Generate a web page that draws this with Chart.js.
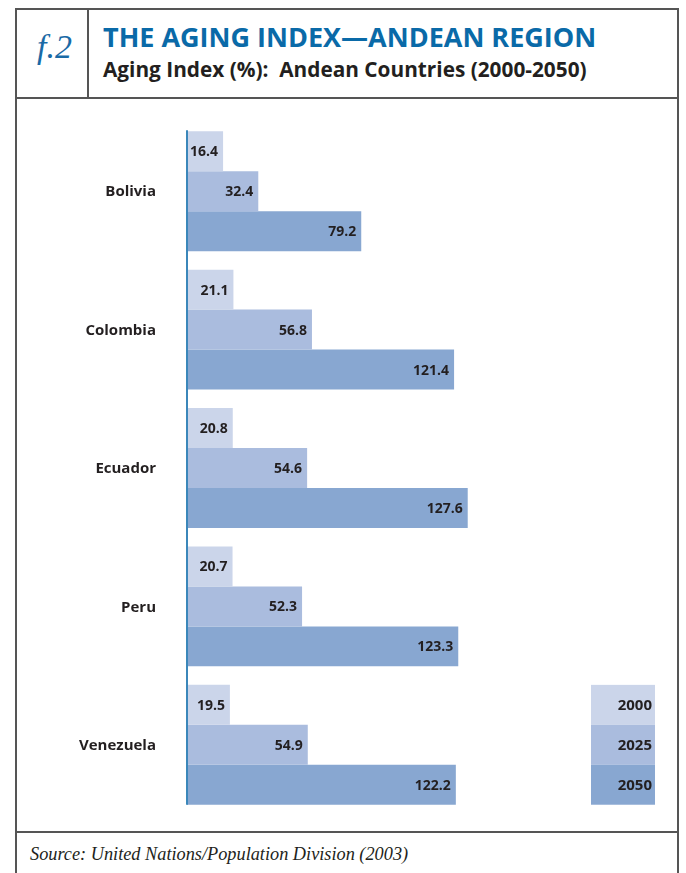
<!DOCTYPE html>
<html>
<head>
<meta charset="utf-8">
<script src="https://cdn.jsdelivr.net/npm/chart.js@4/dist/chart.umd.min.js"></script>
<style>
  body { margin: 0; background: #fff; width: 686px; height: 873px; overflow: hidden; position: relative; }
  #frame { position: absolute; left: 15px; top: 8px; width: 660px; height: 880px; border: 2px solid #555; border-bottom: none; }
  #fig { position: absolute; left: 15px; top: 8px; width: 72px; height: 90px; border-right: 2px solid #555; }
  #fig span { position: absolute; left: 22px; top: 20px; font: italic 34px "Liberation Serif", serif; color: #1a6aa6; }
  #hdrline { position: absolute; left: 15px; top: 97px; width: 662px; height: 2px; background: #555; }
  #title { position: absolute; left: 103px; top: 18px; font: bold 27px "Open Sans", sans-serif; color: #0a6aa8; white-space: nowrap; }
  #subtitle { position: absolute; left: 103px; top: 55px; font: bold 20.8px "Open Sans", sans-serif; color: #231f20; white-space: nowrap; }
  #srcline { position: absolute; left: 15px; top: 831px; width: 662px; height: 2px; background: #555; }
  #source { position: absolute; left: 30px; top: 844px; font: italic 18.3px "Liberation Serif", serif; color: #231f20; white-space: nowrap; }
  #wrap { position: absolute; left: 17px; top: 99px; width: 658px; height: 732px; }
</style>
</head>
<body>
<div id="frame"></div>
<div id="fig"><span>f.2</span></div>
<div id="hdrline"></div>
<div id="title">THE AGING INDEX—ANDEAN REGION</div>
<div id="subtitle">Aging Index (%):&nbsp; Andean Countries (2000-2050)</div>
<div id="wrap"><canvas id="agingChart"></canvas></div>
<div id="srcline"></div>
<div id="source">Source: United Nations/Population Division (2003)</div>

<script>
const countries = ['Bolivia', 'Colombia', 'Ecuador', 'Peru', 'Venezuela'];
const years = ['2000', '2025', '2050'];
const index2000 = [16.4, 21.1, 20.8, 20.7, 19.5];
const index2025 = [32.4, 56.8, 54.6, 52.3, 54.9];
const index2050 = [79.2, 121.4, 127.6, 123.3, 122.2];
const barColors = ['#cbd5ea', '#aabcde', '#88a7d1'];

const ctx = document.getElementById('agingChart').getContext('2d');

// country names, value labels, the blue axis line and the legend boxes
const extras = {
  id: 'extras',
  afterDatasetsDraw(chart) {
    const c = chart.ctx;
    const area = chart.chartArea;
    c.save();
    c.fillStyle = '#231f20';
    c.textAlign = 'right';
    c.textBaseline = 'middle';

    c.font = 'bold 15px "Open Sans", sans-serif';
    chart.getDatasetMeta(1).data.forEach((bar, j) => {
      c.fillText(countries[j], area.left - 31, bar.y + 1);
    });

    c.font = 'bold 14px "Open Sans", sans-serif';
    chart.data.datasets.forEach((ds, i) => {
      chart.getDatasetMeta(i).data.forEach((bar, j) => {
        c.fillText(ds.data[j].toFixed(1), bar.x - 5, bar.y + 1);
      });
    });

    const first = chart.getDatasetMeta(0).data[0];
    const last = chart.getDatasetMeta(2).data[countries.length - 1];
    c.strokeStyle = '#3b87ba';
    c.lineWidth = 2;
    c.beginPath();
    c.moveTo(area.left, first.y - first.height / 2 - 1);
    c.lineTo(area.left, last.y + last.height / 2);
    c.stroke();

    // legend beside the last group
    const lx = 574, lw = 64;
    c.font = 'bold 15px "Open Sans", sans-serif';
    chart.data.datasets.forEach((ds, i) => {
      const bar = chart.getDatasetMeta(i).data[countries.length - 1];
      c.fillStyle = ds.backgroundColor;
      c.fillRect(lx, bar.y - bar.height / 2, lw, bar.height);
      c.fillStyle = '#231f20';
      c.fillText(ds.label, lx + lw - 3, bar.y + 1);
    });
    c.restore();
  }
};

new Chart(ctx, {
  type: 'bar',
  data: {
    labels: countries,
    datasets: [
      { label: years[0], data: index2000, backgroundColor: barColors[0] },
      { label: years[1], data: index2025, backgroundColor: barColors[1] },
      { label: years[2], data: index2050, backgroundColor: barColors[2] },
    ],
  },
  options: {
    indexAxis: 'y',
    responsive: true,
    maintainAspectRatio: false,
    animation: false,
    layout: { padding: { top: 23, bottom: 17, right: 48 } },
    datasets: { bar: { categoryPercentage: 0.866, barPercentage: 1 } },
    plugins: { legend: { display: false }, tooltip: { enabled: false } },
    scales: {
      x: { display: false, min: 0, max: 200 },
      y: {
        grid: { display: false },
        border: { display: false },
        ticks: { display: false },
        afterFit(scale) { scale.width = 170; },
      },
    },
  },
  plugins: [extras],
});
</script>
</body>
</html>
